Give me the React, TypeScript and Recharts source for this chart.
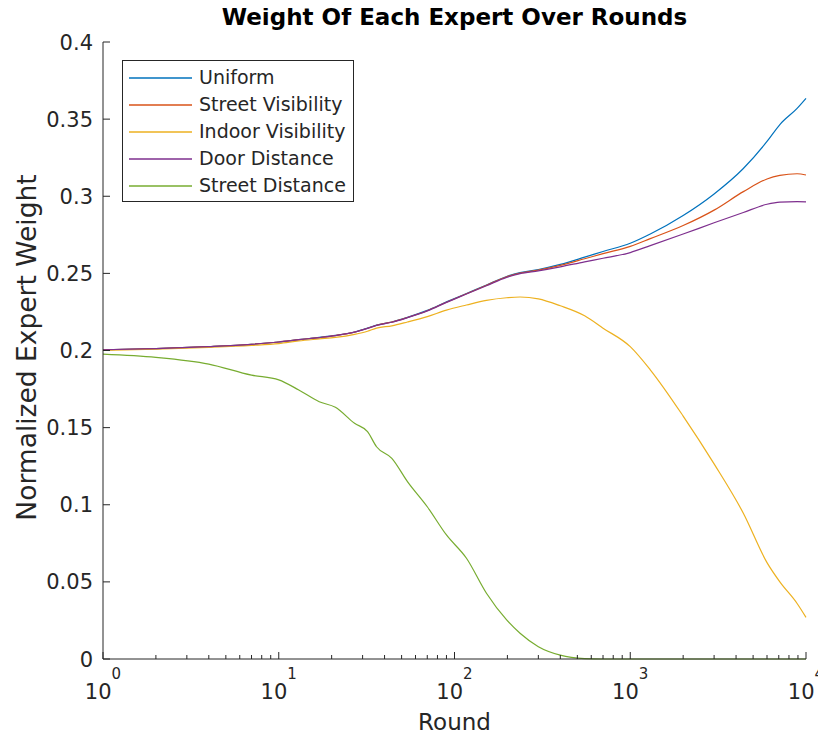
import { LineChart, Line, XAxis, YAxis, Legend } from 'recharts';

const AXIS = '#262626';
const FONT = '"DejaVu Sans", sans-serif';

// rounds (log x axis)
const rounds = [
  1, 2, 4, 7, 10, 13, 17, 21, 27, 32, 36, 44, 54, 70, 90, 117, 152, 198, 236, 300, 400, 550,
  700, 1000, 1300, 2000, 3000, 4400, 6000, 7100, 8900, 10000,
];

const uniform = [
  0.2005, 0.2012, 0.2025, 0.204, 0.2055, 0.207, 0.2085, 0.2098, 0.212, 0.2145, 0.2165, 0.2185,
  0.2215, 0.226, 0.2315, 0.237, 0.2425, 0.248, 0.2505, 0.2525, 0.2558, 0.2605, 0.2642, 0.2695,
  0.2755, 0.2875, 0.3015, 0.318, 0.3355, 0.3465, 0.357, 0.3635,
];

const streetVisibility = [
  0.2005, 0.2012, 0.2025, 0.204, 0.2055, 0.207, 0.2084, 0.2097, 0.2119, 0.2144, 0.2164, 0.2184,
  0.2214, 0.2258, 0.2313, 0.2368, 0.2423, 0.2478, 0.2502, 0.2521, 0.2552, 0.2595, 0.2628, 0.2675,
  0.2725, 0.281, 0.291, 0.303, 0.3112, 0.3135, 0.3146, 0.3138,
];

const indoorVisibility = [
  0.2, 0.2008, 0.202, 0.2033, 0.2045, 0.2062, 0.2075, 0.2085, 0.2105, 0.2125, 0.2145, 0.216,
  0.2185, 0.222, 0.2262, 0.2295, 0.2325, 0.2342, 0.2347, 0.2335, 0.229, 0.2225, 0.2145, 0.2025,
  0.1875, 0.1575, 0.1265, 0.0945, 0.0625, 0.05, 0.036, 0.027,
];

const doorDistance = [
  0.2005, 0.2012, 0.2025, 0.204, 0.2055, 0.207, 0.2084, 0.2097, 0.2119, 0.2143, 0.2163, 0.2183,
  0.2213, 0.2257, 0.2312, 0.2366, 0.242, 0.2474, 0.2498, 0.2516, 0.2542, 0.2575, 0.2598, 0.2635,
  0.268, 0.2755, 0.2828, 0.2895, 0.2948, 0.2962, 0.2965, 0.2963,
];

const streetDistance = [
  0.1977, 0.1956, 0.1912, 0.184, 0.181, 0.1744, 0.1668, 0.1632, 0.1528, 0.1474, 0.1376, 0.1301,
  0.115, 0.0987, 0.0804, 0.0653, 0.0426, 0.0253, 0.0167, 0.008, 0.0025, 0.0003, 0, 0,
  0, 0, 0, 0, 0, 0, 0, 0,
];

const xMajor = [1, 10, 100, 1000, 10000];
const xMinor = [2, 3, 4, 5, 6, 7, 8, 9];
const xTicks = xMajor.flatMap((d) => (d < 10000 ? [d, ...xMinor.map((m) => m * d)] : [d]));
const yTicks = [0, 0.05, 0.1, 0.15, 0.2, 0.25, 0.3, 0.35, 0.4];

const SERIES = [
  { key: 'uniform', name: 'Uniform', color: '#0072BD', values: uniform },
  { key: 'streetVis', name: 'Street Visibility', color: '#D95319', values: streetVisibility },
  { key: 'indoorVis', name: 'Indoor Visibility', color: '#EDB120', values: indoorVisibility },
  { key: 'doorDist', name: 'Door Distance', color: '#7E2F8E', values: doorDistance },
  { key: 'streetDist', name: 'Street Distance', color: '#77AC30', values: streetDistance },
];

const data = rounds.map((r, i) => {
  const row: Record<string, number> = { round: r };
  SERIES.forEach((s) => {
    row[s.key] = s.values[i];
  });
  return row;
});

function isMajor(v: number) {
  const e = Math.round(Math.log10(v));
  return Math.abs(Math.pow(10, e) - v) < 1e-6;
}

// bottom axis: inward ticks + 10^n labels
function BottomTick({ x, y, payload }: any) {
  const v = payload.value;
  const major = isMajor(v);
  return (
    <g>
      <line x1={x} x2={x} y1={y} y2={y - (major ? 7 : 4)} stroke={AXIS} strokeWidth={1} />
      {major && (
        <text x={x} y={y + 40} textAnchor="middle" fill={AXIS} fontSize={21} fontFamily={FONT}>
          <tspan>10</tspan>
          <tspan dy={-20} fontSize={15}>
            {Math.round(Math.log10(v))}
          </tspan>
        </text>
      )}
    </g>
  );
}

function TopTick({ x, y, payload }: any) {
  const major = isMajor(payload.value);
  return <line x1={x} x2={x} y1={y} y2={y + (major ? 7 : 4)} stroke={AXIS} strokeWidth={1} />;
}

function LeftTick({ x, y, payload }: any) {
  return (
    <g>
      <line x1={x} x2={x + 7} y1={y} y2={y} stroke={AXIS} strokeWidth={1} />
      <text
        x={x - 10}
        y={y}
        dy="0.36em"
        textAnchor="end"
        fill={AXIS}
        fontSize={21}
        fontFamily={FONT}
      >
        {String(payload.value)}
      </text>
    </g>
  );
}

function RightTick({ x, y }: any) {
  return <line x1={x} x2={x - 7} y1={y} y2={y} stroke={AXIS} strokeWidth={1} />;
}

function LegendBox() {
  return (
    <div
      style={{
        border: `1px solid ${AXIS}`,
        background: '#fff',
        width: 232,
        height: 142,
        paddingTop: 3,
        boxSizing: 'border-box',
        fontFamily: FONT,
      }}
    >
      {SERIES.map((s) => (
        <div key={s.key} style={{ display: 'flex', alignItems: 'center', height: 27 }}>
          <svg width={76} height={4} style={{ display: 'block', flex: 'none' }}>
            <line x1={6} x2={69} y1={2} y2={2} stroke={s.color} strokeWidth={1.4} />
          </svg>
          <span style={{ fontSize: 19, color: AXIS, lineHeight: '27px', whiteSpace: 'nowrap' }}>
            {s.name}
          </span>
        </div>
      ))}
    </div>
  );
}

export default function App() {
  return (
    <div style={{ position: 'relative', width: 810, height: 727 }}>
      <div
        style={{
          position: 'absolute',
          left: 95,
          width: 703,
          top: -2,
          textAlign: 'center',
          fontFamily: FONT,
          fontWeight: 'bold',
          fontSize: 23,
          lineHeight: 1,
          color: '#000',
          zIndex: 2,
        }}
      >
        Weight Of Each Expert Over Rounds
      </div>
      <LineChart width={810} height={727} data={data} margin={{ top: 34, right: 12, bottom: 0, left: 0 }}>
        <XAxis
          xAxisId="b"
          dataKey="round"
          type="number"
          scale="log"
          domain={[1, 10000]}
          ticks={xTicks}
          interval={0}
          tickSize={0}
          tickMargin={0}
          tickLine={false}
          tick={<BottomTick />}
          axisLine={{ stroke: AXIS }}
          height={76}
          label={({ viewBox }: any) => (
            <text
              x={viewBox.x + viewBox.width / 2}
              y={viewBox.y + 71}
              textAnchor="middle"
              fill={AXIS}
              fontSize={23}
              fontFamily={FONT}
            >
              Round
            </text>
          )}
        />
        <XAxis
          xAxisId="t"
          orientation="top"
          dataKey="round"
          type="number"
          scale="log"
          domain={[1, 10000]}
          ticks={xTicks}
          interval={0}
          tickSize={0}
          tickMargin={0}
          tickLine={false}
          tick={<TopTick />}
          axisLine={{ stroke: AXIS }}
          height={0}
        />
        <YAxis
          yAxisId="l"
          type="number"
          domain={[0, 0.4]}
          ticks={yTicks}
          interval={0}
          tickSize={0}
          tickMargin={0}
          tickLine={false}
          tick={<LeftTick />}
          axisLine={{ stroke: AXIS }}
          width={95}
          label={({ viewBox }: any) => {
            const cx = 18;
            const cy = viewBox.y + viewBox.height / 2 - 3;
            return (
              <text
                x={cx}
                y={cy}
                dy="0.36em"
                transform={`rotate(-90, ${cx}, ${cy})`}
                textAnchor="middle"
                fill={AXIS}
                fontSize={26.5}
                fontFamily={FONT}
              >
                Normalized Expert Weight
              </text>
            );
          }}
        />
        <YAxis
          yAxisId="r"
          orientation="right"
          type="number"
          domain={[0, 0.4]}
          ticks={yTicks}
          interval={0}
          tickSize={0}
          tickMargin={0}
          tickLine={false}
          tick={<RightTick />}
          axisLine={{ stroke: AXIS }}
          width={0}
        />
        {SERIES.map((s) => (
          <Line
            key={s.key}
            xAxisId="b"
            yAxisId="l"
            type="monotone"
            dataKey={s.key}
            name={s.name}
            stroke={s.color}
            strokeWidth={1.2}
            dot={false}
            activeDot={false}
            isAnimationActive={false}
          />
        ))}
        <Legend
          layout="vertical"
          align="center"
          verticalAlign="middle"
          content={<LegendBox />}
          wrapperStyle={{ left: 114, top: 52, width: 233, height: 142 }}
        />
      </LineChart>
    </div>
  );
}
